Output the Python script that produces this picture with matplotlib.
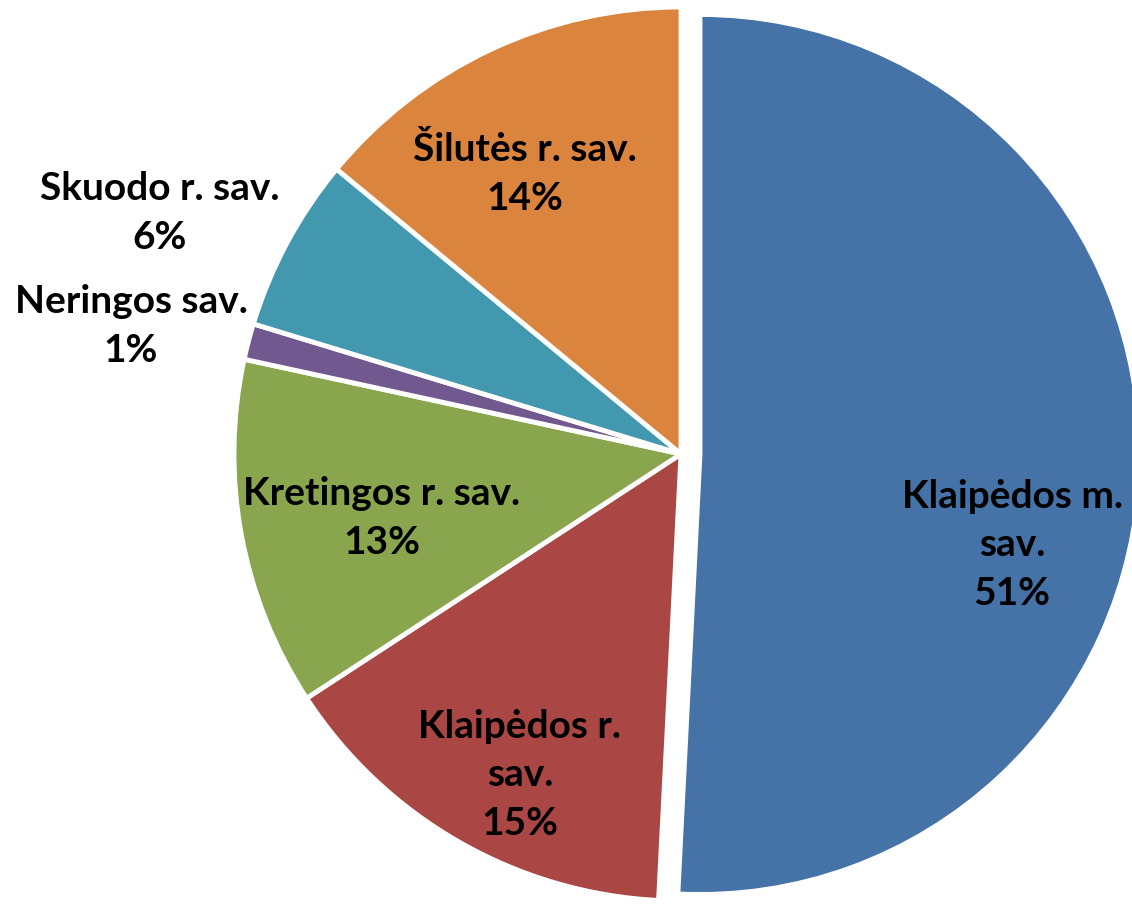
import matplotlib
matplotlib.use('Agg')
import matplotlib.pyplot as plt

# municipality shares, clockwise from 12 o'clock
names = ['Klaipėdos m.\nsav.', 'Klaipėdos r.\nsav.', 'Kretingos r. sav.',
         'Neringos sav.', 'Skuodo r. sav.', 'Šilutės r. sav.']
shares = [50.8, 15.0, 12.6, 1.3, 6.3, 14.0]
colors = ['#4572A7', '#AA4643', '#89A54E', '#71588F', '#4198AF', '#DB843D']

# layout: explode offset (px), label anchors (canvas pixels, y up)
explode = [19, 0, 0, 0, 0, 0]
label_xy = [(1012, 360), (520, 130), (382, 387), (131, 579), (160, 692), (525, 731)]

fig = plt.figure(figsize=(11.32, 9.05), dpi=100)
ax = fig.add_axes([0, 0, 1, 1])

wedges, _ = ax.pie(shares, colors=colors, explode=explode, startangle=90,
                   counterclock=False, radius=447, center=(681, 451),
                   wedgeprops=dict(edgecolor='white', linewidth=3.5))
wedges[0].set_radius(440)

for name, val, (x, y) in zip(names, shares, label_xy):
    ax.text(x, y, '{}\n{:.0f}%'.format(name, val), ha='center', va='center',
            fontsize=28, fontweight='bold', family='Lato', linespacing=1.45)

ax.set_xlim(0, 1132)
ax.set_ylim(0, 905)
ax.set_aspect('equal')
ax.axis('off')

fig.savefig('out.png', dpi=100)
